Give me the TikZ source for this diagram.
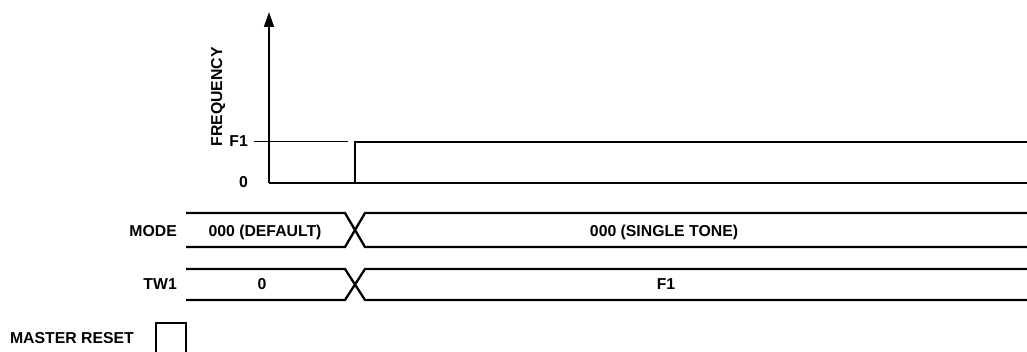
\documentclass[tikz,border=0pt]{standalone}
\usepackage{fontspec}
\setmainfont{Liberation Sans}
\usetikzlibrary{arrows.meta}

\begin{document}
\begin{tikzpicture}[x=1pt,y=-1pt,font=\bfseries\fontsize{15.8}{18}\selectfont]
  \tikzset{sig/.style={line width=2.3pt},lbl/.style={inner sep=0pt,anchor=base east},txt/.style={inner sep=0pt,anchor=base}}
  \useasboundingbox (0,0) rectangle (1027,352);
  % frequency plot: axes, F1 tick, step at master reset release
  \coordinate (org) at (269,183);
  \coordinate (top) at (269,12);
  \coordinate (xend) at (1027,183);
  \draw[line width=1.8pt,-{Triangle[length=15pt,width=10pt]}] (org) -- (top);
  \draw[sig] (org) -- (xend);
  \node[lbl] (fone) at (248,147) {F1};
  \node[lbl] (zero) at (248,188) {0};
  \node[inner sep=0pt,anchor=base,rotate=90] (freq) at (222,97) {FREQUENCY};
  \coordinate (tickend) at (348,141.5);
  \draw[line width=0.9pt] (fone.east |- tickend) ++(6,0) -- (tickend);
  \coordinate (stepup) at (355,142);
  \coordinate (fend) at (1027,142);
  \draw[sig] (org -| stepup) -- (stepup) -- (fend);
  % bus lines with crossover at x=355
  \foreach \t/\b in {213/247,269/300}{
    \draw[sig] (186,\t) -- (345,\t) -- (365,\b) -- (1027,\b);
    \draw[sig] (186,\b) -- (345,\b) -- (365,\t) -- (1027,\t);
  }
  \node[lbl] (mode) at (177,237) {MODE};
  \node[txt] (modea) at (265,237) {000 (DEFAULT)};
  \node[txt] (modeb) at (664,237) {000 (SINGLE TONE)};
  \node[lbl] (tw) at (177,290) {TW1};
  \node[txt] (twa) at (262,290) {0};
  \node[txt] (twb) at (666,290) {F1};
  % master reset pulse
  \node[lbl] (mreset) at (134,343) {MASTER RESET};
  \draw[line width=2pt] (156,352) -- (156,323) -- (186,323) -- (186,352);
\end{tikzpicture}
\end{document}
